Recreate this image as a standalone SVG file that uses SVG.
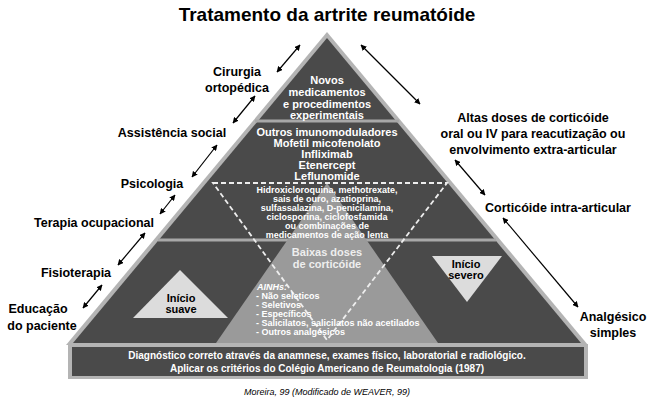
<svg xmlns="http://www.w3.org/2000/svg" width="654" height="401" viewBox="0 0 654 401">
<defs>
<marker id="ah" viewBox="0 0 10 10" refX="9" refY="5" markerWidth="5" markerHeight="5" orient="auto-start-reverse"><path d="M0,0 L10,5 L0,10 z" fill="#000"/></marker>
<style>
text{font-family:"Liberation Sans",Arial,sans-serif;font-weight:bold;text-anchor:middle}
.lb{font-size:12.5px;fill:#000}
.w{fill:#fff;font-size:11px}
.s{fill:#fff;font-size:9px}
.conn line{stroke:#000;stroke-width:1.2;marker-start:url(#ah);marker-end:url(#ah)}
</style>
</defs>
<rect width="654" height="401" fill="#fff"/>
<text x="327" y="21" style="font-size:19px">Tratamento da artrite reumatóide</text>
<g id="pyramid">
<polygon points="327,32 588,345 66,345" fill="#b4b4b4"/>
<polygon points="327,38 581,343 73,343" fill="#4a4a4a"/>
<line x1="255" y1="121" x2="399" y2="121" stroke="#a8a8a8" stroke-width="3"/>
<line x1="158" y1="240" x2="496" y2="240" stroke="#a8a8a8" stroke-width="3"/>
<polygon points="327,183 438,343 216,343" fill="#9a9a9a"/>
<polygon points="213,183 447,183 327,340" fill="none" stroke="#eee" stroke-width="1.8" stroke-dasharray="5,3"/>
</g>
<g id="bottom">
<rect x="68" y="344" width="520" height="35" fill="#b4b4b4"/>
<rect x="72" y="347" width="512" height="29" fill="#4a4a4a"/>
<text class="w" x="327" y="359" style="font-size:10px">Diagnóstico correto através da anamnese, exames físico, laboratorial e radiológico.</text>
<text class="w" x="327" y="372" style="font-size:10px">Aplicar os critérios do Colégio Americano de Reumatologia (1987)</text>
</g>
<g id="top"><text class="w" x="327" y="84">Novos</text><text class="w" x="327" y="96">medicamentos</text><text class="w" x="327" y="108">e procedimentos</text><text class="w" x="327" y="119">experimentais</text></g>
<g id="imuno"><text class="w" x="327" y="136">Outros imunomoduladores</text><text class="w" x="327" y="147">Mofetil micofenolato</text><text class="w" x="327" y="158">Infliximab</text><text class="w" x="327" y="169">Etenercept</text><text class="w" x="327" y="180">Leflunomide</text></g>
<g id="lenta"><text class="s" x="327" y="193">Hidroxicloroquina, methotrexate,</text><text class="s" x="327" y="202">sais de ouro, azatioprina,</text><text class="s" x="327" y="211">sulfassalazina, D-penicilamina,</text><text class="s" x="327" y="220">ciclosporina, ciclofosfamida</text><text class="s" x="327" y="229">ou combinações de</text><text class="s" x="327" y="238">medicamentos de ação lenta</text></g>
<g id="baixas"><text x="327" y="256" style="font-size:11px;fill:#eee">Baixas doses</text><text x="327" y="268" style="font-size:11px;fill:#eee">de corticóide</text></g>
<g id="ainh">
<text class="s" x="257" y="290" style="text-anchor:start;font-style:italic">AINHs:</text>
<text class="s" x="256" y="299" style="text-anchor:start">- Não seleticos</text>
<text class="s" x="256" y="308" style="text-anchor:start">- Seletivos</text>
<text class="s" x="256" y="317" style="text-anchor:start">- Específicos</text>
<text class="s" x="256" y="326" style="text-anchor:start">- Salicilatos, salicilatos não acetilados</text>
<text class="s" x="256" y="335" style="text-anchor:start">- Outros analgésicos</text>
</g>
<g id="suave"><polygon points="180,270 228,318 133,318" fill="#dcdcdc"/><text x="181" y="302" style="font-size:11px">Início</text><text x="181" y="313" style="font-size:11px">suave</text></g>
<g id="severo"><polygon points="432,256 502,256 467,302" fill="#dcdcdc"/><text x="466" y="268" style="font-size:11px">Início</text><text x="466" y="279" style="font-size:11px">severo</text></g>
<g id="labels">
<text class="lb" x="237" y="76">Cirurgia</text><text class="lb" x="237" y="92">ortopédica</text>
<text class="lb" x="172" y="137">Assistência social</text>
<text class="lb" x="152" y="188">Psicologia</text>
<text class="lb" x="94" y="227">Terapia ocupacional</text>
<text class="lb" x="76" y="277">Fisioterapia</text>
<text class="lb" x="38" y="313">Educação</text><text class="lb" x="42" y="330">do paciente</text>
<text class="lb" x="533" y="122">Altas doses de corticóide</text>
<text class="lb" x="533" y="138">oral ou IV para reacutização ou</text>
<text class="lb" x="533" y="154">envolvimento extra-articular</text>
<text class="lb" x="558" y="212">Corticóide intra-articular</text>
<text class="lb" x="613" y="321">Analgésico</text><text class="lb" x="613" y="337">simples</text>
</g>
<g class="conn" id="connectors">
<line x1="300" y1="45" x2="277" y2="72"/>
<line x1="255" y1="96" x2="233" y2="123"/>
<line x1="217" y1="145" x2="192" y2="177"/>
<line x1="175" y1="195" x2="160" y2="214"/>
<line x1="145" y1="233" x2="118" y2="265"/>
<line x1="102" y1="285" x2="83" y2="308"/>
<line x1="361" y1="45" x2="420" y2="104"/>
<line x1="455" y1="160" x2="485" y2="195"/>
<line x1="503" y1="218" x2="578" y2="307"/>
</g>
<text x="327" y="395" style="font-size:9px;font-weight:normal;font-style:italic">Moreira, 99 (Modificado de WEAVER, 99)</text>
</svg>
